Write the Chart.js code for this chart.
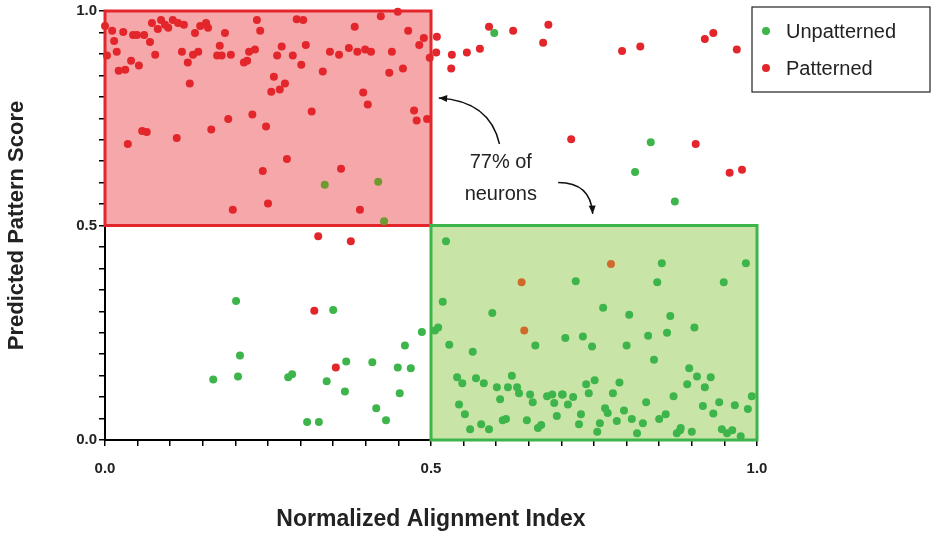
<!DOCTYPE html>
<html><head><meta charset="utf-8">
<script src="https://cdn.jsdelivr.net/npm/chart.js@4"></script>
<style>html,body{margin:0;padding:0;background:#fff}#w{width:943px;height:537px}</style>
</head><body><div id="w"><canvas id="c"></canvas></div>
<script>
const patternedX=[0,.003,.011,.014,.018,.021,.031,.028,.035,.04,.043,.049,.052,.057,.064,.06,.069,.072,.077,.081,.086,.092,.097,.104,.112,.121,.11,.118,.127,.13,.135,.143,.138,.146,.155,.158,.163,.172,.179,.176,.184,.189,.193,.196,.213,.218,.221,.226,.23,.233,.238,.242,.247,.25,.255,.259,.264,.268,.271,.276,.279,.288,.294,.304,.301,.308,.317,.334,.345,.359,.362,.374,.383,.387,.391,.396,.399,.403,.408,.423,.436,.44,.449,.457,.465,.474,.478,.482,.489,.494,.498,.327,.377,.321,.354,.509,.508,.532,.531,.555,.575,.589,.626,.672,.68,.715,.793,.821,.906,.92,.933,.969,.958,.977];
const patternedY=[.965,.896,.954,.93,.905,.861,.863,.951,.69,.884,.944,.944,.873,.72,.718,.944,.928,.972,.898,.958,.979,.968,.961,.979,.972,.968,.704,.905,.88,.831,.898,.905,.949,.965,.972,.961,.724,.896,.896,.919,.949,.748,.898,.537,.88,.884,.905,.759,.91,.979,.954,.627,.731,.551,.812,.847,.896,.817,.917,.831,.655,.896,.981,.979,.875,.921,.766,.859,.905,.898,.632,.914,.963,.905,.537,.81,.91,.782,.905,.988,.856,.905,.998,.866,.954,.768,.745,.921,.937,.748,.891,.475,.463,.301,.169,.94,.903,.898,.866,.903,.912,.963,.954,.926,.968,.701,.907,.917,.69,.935,.949,.91,.623,.63];
const unpatternedX=[.597,.837,.813,.874,.523,.201,.207,.204,.166,.281,.287,.31,.328,.35,.34,.368,.37,.41,.416,.431,.449,.452,.46,.469,.486,.506,.511,.528,.564,.594,.66,.706,.722,.733,.747,.764,.8,.804,.833,.847,.854,.867,.862,.842,.896,.904,.949,.983,.518,.54,.548,.543,.552,.56,.569,.577,.581,.589,.601,.606,.61,.615,.618,.624,.632,.635,.647,.652,.656,.664,.669,.678,.686,.689,.693,.701,.702,.71,.718,.727,.73,.738,.751,.755,.759,.767,.771,.779,.785,.789,.796,.808,.816,.825,.83,.85,.86,.872,.877,.882,.883,.893,.9,.908,.917,.92,.929,.933,.942,.946,.954,.962,.966,.975,.986,.992,.742];
const unpatternedY=[.949,.694,.625,.556,.463,.324,.197,.148,.141,.146,.153,.042,.042,.303,.137,.113,.183,.181,.074,.046,.169,.109,.22,.167,.252,.255,.262,.222,.206,.296,.22,.238,.37,.241,.218,.308,.22,.292,.243,.368,.412,.289,.25,.187,.167,.262,.368,.412,.322,.146,.132,.083,.06,.025,.144,.037,.132,.025,.123,.095,.046,.049,.123,.15,.123,.109,.046,.106,.088,.028,.035,.102,.106,.086,.056,.106,.106,.083,.1,.037,.06,.13,.139,.019,.039,.074,.063,.109,.044,.134,.069,.049,.016,.039,.088,.049,.06,.102,.016,.023,.028,.13,.019,.148,.079,.123,.146,.062,.088,.025,.016,.023,.081,.009,.072,.102,.109,0];
const oliveX=[.337,.419,.428], oliveY=[.595,.602,.51];
const orangeX=[.639,.643,.776], orangeY=[.368,.255,.41];
const legendLabels=["Unpatterned","Patterned"];
const tickLabels={0:"0.0",0.5:"0.5",1:"1.0"};
const pts=(xs,ys)=>xs.map((x,i)=>({x,y:ys[i]}));
const RED="#e3262b",GREEN="#3db54a";
const F="'Liberation Sans', Arial, sans-serif";

const deco={id:'deco',
beforeDatasetsDraw(ch){const c=ch.ctx,x=ch.scales.x,y=ch.scales.y;c.save();
 const box=(x0,y0,x1,y1,fill,stroke)=>{const l=x.getPixelForValue(x0),r=x.getPixelForValue(x1),t=y.getPixelForValue(y1),b=y.getPixelForValue(y0);
  c.fillStyle=fill;c.fillRect(l,t,r-l,b-t);c.strokeStyle=stroke;c.lineWidth=3;c.strokeRect(l,t,r-l,b-t);};
 box(0,0.5,0.5,1,"rgba(240,120,125,0.65)",RED);
 box(0.5,0,1,0.5,"rgba(170,215,120,0.65)",GREEN);
 c.restore();},
afterDraw(ch){const c=ch.ctx,x=ch.scales.x,y=ch.scales.y;c.save();
 c.fillStyle="#222";c.font="20px "+F;c.textAlign="center";c.textBaseline="middle";
 c.fillText("77% of",x.getPixelForValue(0.607),y.getPixelForValue(0.648));
 c.fillText("neurons",x.getPixelForValue(0.607),y.getPixelForValue(0.572));
 const arrow=(p0,cp,p1)=>{const a=[x.getPixelForValue(p0[0]),y.getPixelForValue(p0[1])],k=[x.getPixelForValue(cp[0]),y.getPixelForValue(cp[1])],e=[x.getPixelForValue(p1[0]),y.getPixelForValue(p1[1])];
  c.strokeStyle="#111";c.lineWidth=1.5;c.beginPath();c.moveTo(a[0],a[1]);c.quadraticCurveTo(k[0],k[1],e[0],e[1]);c.stroke();
  const ang=Math.atan2(e[1]-k[1],e[0]-k[0]);c.fillStyle="#111";c.beginPath();c.moveTo(e[0],e[1]);
  c.lineTo(e[0]-9*Math.cos(ang-0.4),e[1]-9*Math.sin(ang-0.4));c.lineTo(e[0]-9*Math.cos(ang+0.4),e[1]-9*Math.sin(ang+0.4));c.closePath();c.fill();};
 arrow([0.605,0.69],[0.59,0.79],[0.512,0.797]);
 arrow([0.695,0.6],[0.745,0.6],[0.748,0.527]);
 c.strokeStyle="#222";c.lineWidth=1.2;c.strokeRect(752,7,178,85);
 c.textAlign="left";c.font="20px "+F;
 [[GREEN,31],[RED,68]].forEach((d,i)=>{c.fillStyle=d[0];c.beginPath();c.arc(766,d[1],4,0,Math.PI*2);c.fill();c.fillStyle="#222";c.fillText(legendLabels[i],786,d[1]+1);});
 c.restore();}};

const ds=(d,col)=>({data:d,backgroundColor:col,borderColor:col,pointRadius:4,pointHoverRadius:4,borderWidth:0,clip:false});
new Chart(document.getElementById('c'),{type:'scatter',
data:{datasets:[ds(pts(patternedX,patternedY),RED),ds(pts(unpatternedX,unpatternedY),GREEN),ds(pts(oliveX,oliveY),"#6f9a30"),ds(pts(orangeX,orangeY),"#cf6a2a")]},
options:{responsive:true,maintainAspectRatio:false,animation:false,devicePixelRatio:1,
layout:{padding:{top:4,right:186,left:0,bottom:0}},
plugins:{legend:{display:false},tooltip:{enabled:false}},
scales:{
x:{type:'linear',min:0,max:1,afterFit(s){s.height=97;},
 border:{color:"#000",width:2},grid:{drawOnChartArea:false,color:"#000",tickLength:6,lineWidth:1.5},
 ticks:{stepSize:0.05,autoSkip:false,maxRotation:0,padding:14,color:"#222",font:{family:F,size:15,weight:'bold'},callback:v=>tickLabels[Math.round(v*100)/100]||""},
 title:{display:true,text:"Normalized Alignment Index",color:"#222",font:{family:F,size:23,weight:'bold'},padding:{top:12}}},
y:{type:'linear',min:0,max:1,afterFit(s){s.width=105;},
 border:{color:"#000",width:2},grid:{drawOnChartArea:false,color:"#000",tickLength:6,lineWidth:1.5},
 ticks:{stepSize:0.05,autoSkip:false,padding:2,color:"#222",font:{family:F,size:15,weight:'bold'},callback:v=>tickLabels[Math.round(v*100)/100]||""},
 title:{display:true,text:"Predicted Pattern Score",color:"#222",font:{family:F,size:22,weight:'bold'},padding:{bottom:14}}}}},
plugins:[deco]});
</script></body></html>
